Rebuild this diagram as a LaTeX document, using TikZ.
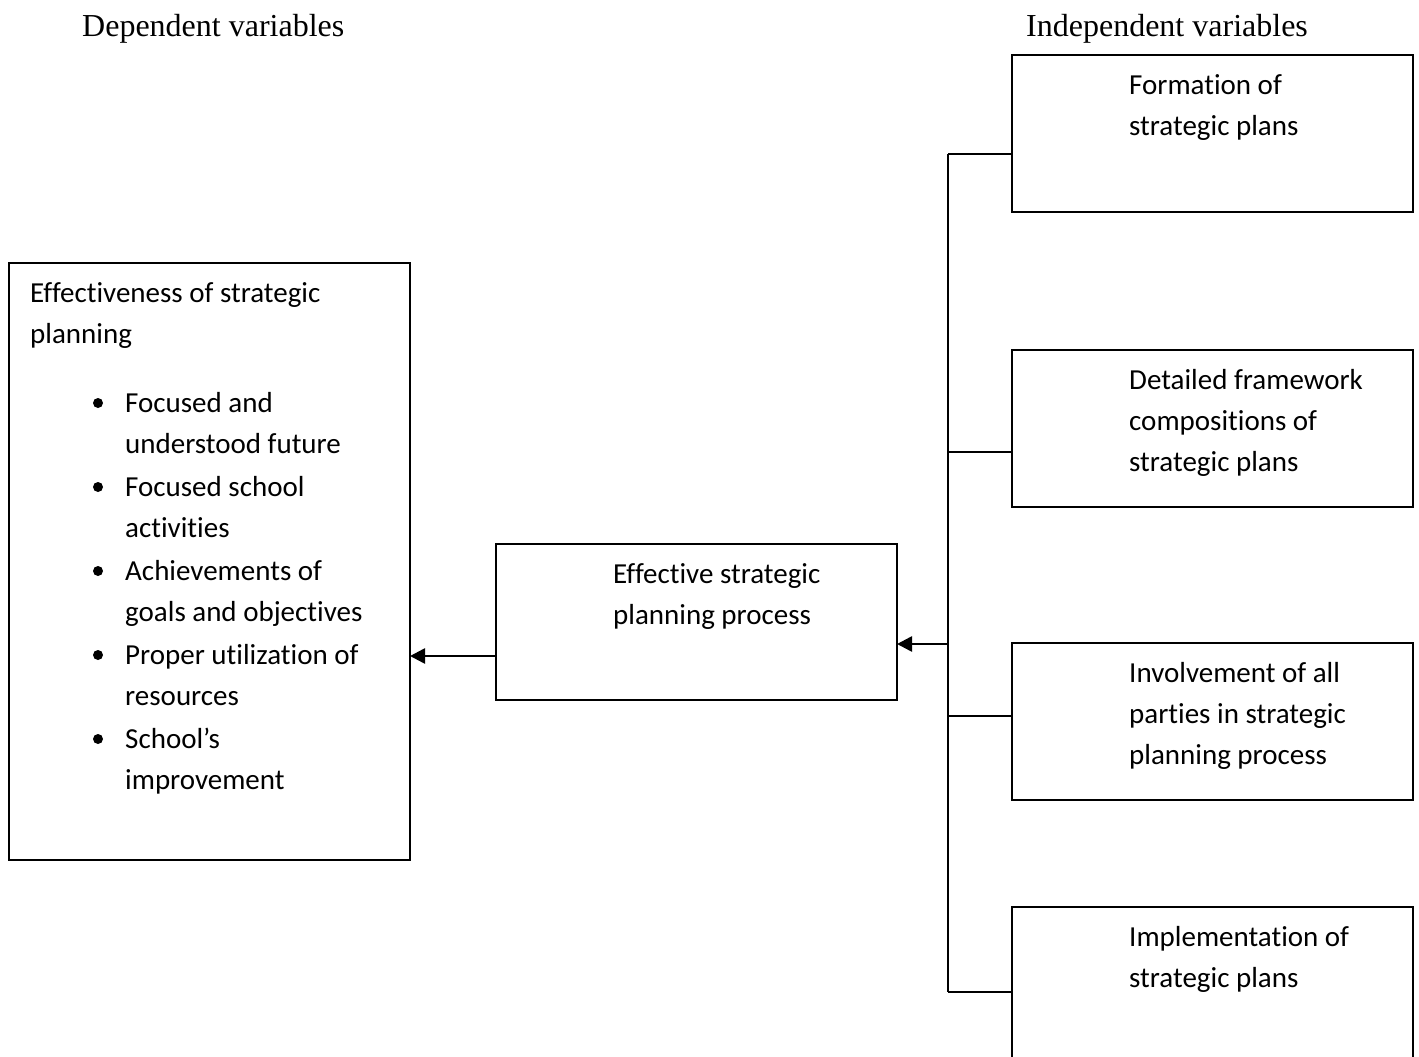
\documentclass[tikz,border=0pt]{standalone}
\usepackage{fontspec}
\setmainfont{Liberation Serif}
\newfontfamily\bodyfont[RawFeature={-liga;-calt;-clig;-dlig}]{Carlito}
\usetikzlibrary{arrows.meta,positioning}
\tikzset{>={Triangle[length=15pt,width=15pt]},every node/.style={inner sep=0pt},
 box/.style={draw,line width=1.8pt,outer sep=0pt,anchor=north west,minimum width=401pt},
 txt/.style={font=\bodyfont\fontsize{29}{41}\selectfont,align=left,anchor=north west},
 head/.style={font=\fontsize{32}{38}\selectfont,anchor=base west},
 dot/.style={circle,fill,minimum size=10pt},
 link/.style={line width=1.8pt},flow/.style={line width=2.6pt,->}}

\begin{document}
\begin{tikzpicture}[x=1pt,y=-1pt]
\useasboundingbox (0,0) rectangle (1419,1057);
\clip (0,0) rectangle (1419,1057);
\node[head] (dep) at (82,37){Dependent variables};
\node[head] (indep) at (1026,37){Independent variables};
% boxes
\node[box,minimum height=597pt] (eff) at (9,263){};
\node[box,minimum height=156pt] (proc) at (496,544){};
\node[box,minimum height=157pt] (form) at (1012,55){};
\node[box,minimum height=157pt] (frame) at (1012,350){};
\node[box,minimum height=157pt] (inv) at (1012,643){};
\node[box,minimum height=157pt] (impl) at (1012,907){};
% texts
\node[txt] (efft) at ([shift={(21,10.3)}]eff.north west){\strut Effectiveness of strategic\\planning};
\foreach \itm [count=\k from 0] in {{Focused and\\understood future},{Focused school\\activities},{Achievements of\\goals and objectives},{Proper utilization of\\resources},{School’s\\improvement}}{
 \node[dot] (b\k) at ([shift={(89,140+84*\k)}]eff.north west){};
 \node[txt] (i\k) at ([shift={(116,120.3+84*\k)}]eff.north west){\strut\itm};
}
\node[txt] (proct) at ([shift={(117,10.3)}]proc.north west){\strut Effective strategic\\planning process};
\node[txt] (formt) at ([shift={(117,10.3)}]form.north west){\strut Formation of\\strategic plans};
\node[txt] (framet) at ([shift={(117,10.3)}]frame.north west){\strut Detailed framework\\compositions of\\strategic plans};
\node[txt] (invt) at ([shift={(117,10.3)}]inv.north west){\strut Involvement of all\\parties in strategic\\planning process};
\node[txt] (implt) at ([shift={(117,10.3)}]impl.north west){\strut Implementation of\\strategic plans};
% connectors
\coordinate (t1) at (948,154);
\coordinate (t2) at (948,452);
\coordinate (t3) at (948,716);
\coordinate (t4) at (948,992);
\coordinate (jn) at (948,644);
\coordinate (out) at ([yshift=-34pt]proc.west);
\draw[link] (t1) -- (t4);
\foreach \b/\t in {form/t1,frame/t2,inv/t3,impl/t4}
 \draw[link] (\t) -- (\b.west |- \t);
\draw[flow] (jn) -- (proc.east |- jn);
\draw[flow] (out) -- (eff.east |- out);
\end{tikzpicture}
\end{document}
